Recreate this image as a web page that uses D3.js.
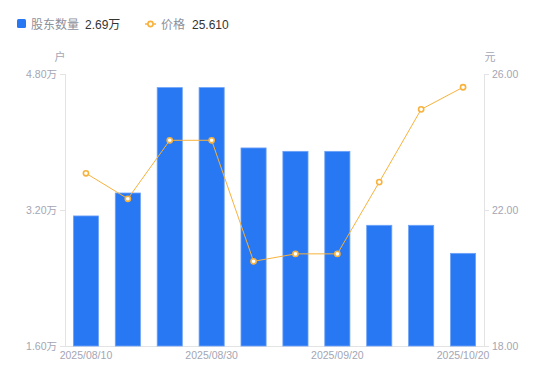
<!DOCTYPE html>
<html lang="zh">
<head>
<meta charset="utf-8">
<title>股东数量与价格</title>
<script src="https://d3js.org/d3.v7.min.js"></script>
<style>
  body { margin: 0; background: #fff; font-family: "Noto Sans CJK SC", "Noto Sans", sans-serif; }
  .axis path, .axis line { stroke: #e3e3e3; shape-rendering: crispEdges; }
  .axis text { fill: #a3a6b4; font-size: 10.5px; font-family: "Liberation Sans", "Noto Sans CJK SC", sans-serif; }
  .legend-name { fill: #8c909a; font-size: 12px; }
  .legend-val { fill: #333; font-size: 12px; font-family: "Liberation Sans", "Noto Sans CJK SC", sans-serif; }
  .unit { fill: #a3a6b4; font-size: 11px; }
</style>
</head>
<body>
<script>
  // data
  var dates = ["2025/08/10", "2025/08/15", "2025/08/20", "2025/08/30", "2025/09/05",
               "2025/09/12", "2025/09/20", "2025/09/30", "2025/10/10", "2025/10/20"];
  var holders = [3.13, 3.40, 4.64, 4.64, 3.93, 3.89, 3.89, 3.02, 3.02, 2.69]; // 万户
  var prices = [23.08, 22.33, 24.05, 24.05, 20.49, 20.71, 20.71, 22.82, 24.96, 25.61];
  var leftTicks = [1.6, 3.2, 4.8];
  var rightTicks = [18, 22, 26];
  var shownDates = ["2025/08/10", "2025/08/30", "2025/09/20", "2025/10/20"];

  var w = 550, h = 381;
  var margin = {top: 74, right: 66, bottom: 35, left: 65};
  var barColor = "#2878f4";
  var lineColor = "#f8b23c";

  var svg = d3.select("body").append("svg").attr("width", w).attr("height", h);

  var x = d3.scaleBand().domain(dates)
    .range([margin.left, w - margin.right]).paddingInner(0.4).paddingOuter(0.2);
  var yL = d3.scaleLinear().domain([1.6, 4.8]).range([h - margin.bottom, margin.top]);
  var yR = d3.scaleLinear().domain([18, 26]).range([h - margin.bottom, margin.top]);

  // axes
  svg.append("g").attr("class", "axis")
    .attr("transform", "translate(" + margin.left + ",0)")
    .call(d3.axisLeft(yL).tickValues(leftTicks).tickSize(5).tickPadding(3)
      .tickFormat(function(d) { return d3.format(".2f")(d) + "万"; }));
  svg.append("g").attr("class", "axis")
    .attr("transform", "translate(" + (w - margin.right) + ",0)")
    .call(d3.axisRight(yR).tickValues(rightTicks).tickSize(5).tickPadding(3)
      .tickFormat(d3.format(".2f")));
  var xAxis = svg.append("g").attr("class", "axis")
    .attr("transform", "translate(0," + (h - margin.bottom) + ")")
    .call(d3.axisBottom(x).tickValues(shownDates).tickSize(0).tickPadding(6));
  xAxis.select(".domain").attr("d", "M" + margin.left + ",0.5H" + (w - margin.right));

  // bars
  svg.selectAll(".bar").data(holders).enter().append("rect")
    .attr("class", "bar")
    .attr("x", function(d, i) { return x(dates[i]); })
    .attr("y", function(d) { return yL(d); })
    .attr("width", x.bandwidth())
    .attr("height", function(d) { return yL(1.6) - yL(d); })
    .attr("fill", barColor)
    .attr("stroke", "#6ea3f7").attr("stroke-width", 0.8);

  // price line
  var line = d3.line()
    .x(function(d, i) { return x(dates[i]) + x.bandwidth() / 2; })
    .y(function(d) { return yR(d); });
  svg.append("path").datum(prices)
    .attr("d", line).attr("fill", "none")
    .attr("stroke", lineColor).attr("stroke-width", 1);
  svg.selectAll(".pt").data(prices).enter().append("circle")
    .attr("class", "pt")
    .attr("cx", function(d, i) { return x(dates[i]) + x.bandwidth() / 2; })
    .attr("cy", function(d) { return yR(d); })
    .attr("r", 2.6)
    .attr("fill", "#fff").attr("stroke", lineColor).attr("stroke-width", 1.6);

  // unit labels
  svg.append("text").attr("class", "unit").attr("x", 60).attr("y", 61)
    .attr("text-anchor", "middle").text("户");
  svg.append("text").attr("class", "unit").attr("x", 490).attr("y", 61)
    .attr("text-anchor", "middle").text("元");

  // legend
  var lg = svg.append("g");
  lg.append("rect").attr("x", 17).attr("y", 19).attr("width", 9).attr("height", 9)
    .attr("rx", 1.5).attr("fill", barColor);
  lg.append("text").attr("class", "legend-name").attr("x", 31).attr("y", 28.5).text("股东数量");
  lg.append("text").attr("class", "legend-val").attr("x", 85).attr("y", 28.5)
    .text(d3.format(".2f")(holders[holders.length - 1]) + "万");
  lg.append("line").attr("x1", 145).attr("x2", 156).attr("y1", 24).attr("y2", 24)
    .attr("stroke", lineColor).attr("stroke-width", 1.5);
  lg.append("circle").attr("cx", 150.5).attr("cy", 24).attr("r", 2.6)
    .attr("fill", "#fff").attr("stroke", lineColor).attr("stroke-width", 1.6);
  lg.append("text").attr("class", "legend-name").attr("x", 161).attr("y", 28.5).text("价格");
  lg.append("text").attr("class", "legend-val").attr("x", 192).attr("y", 28.5)
    .text(d3.format(".3f")(prices[prices.length - 1]));
</script>
</body>
</html>
